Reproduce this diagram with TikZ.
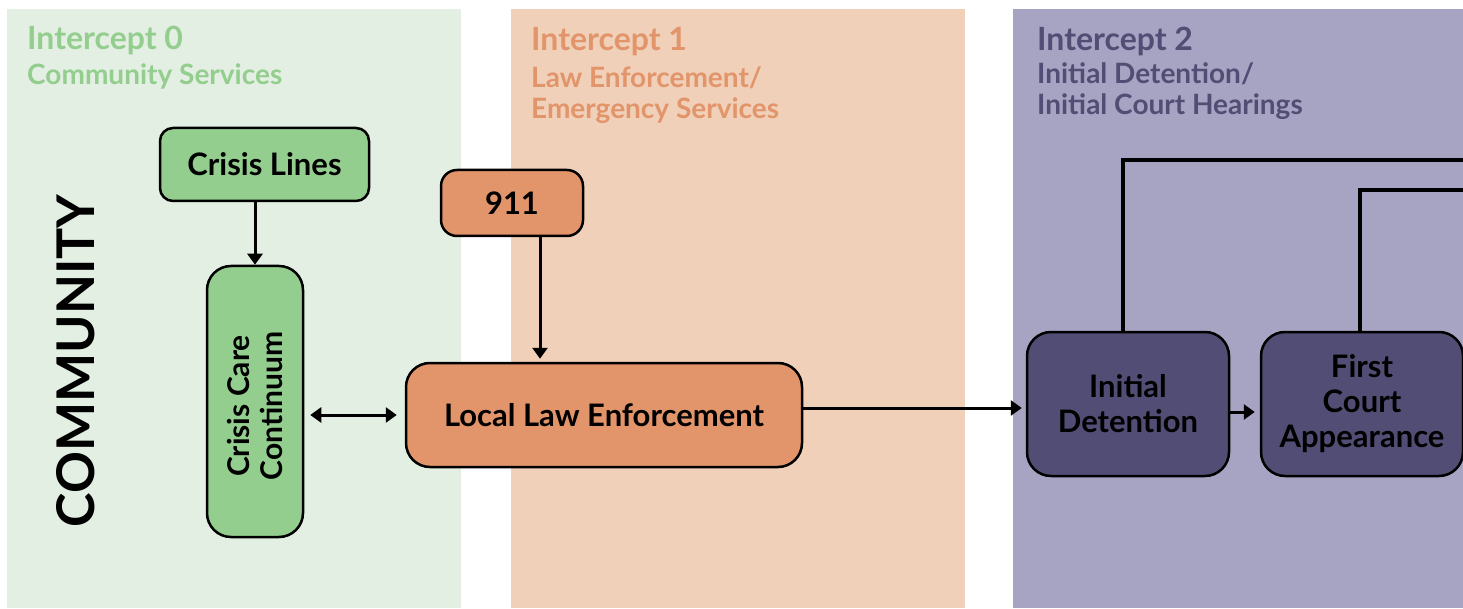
\documentclass[tikz,border=0pt]{standalone}
\usepackage{fontspec}
\setmainfont{Lato}
\usetikzlibrary{arrows.meta}

% band and box colours
\definecolor{grnBand}{HTML}{E3EFE2}
\definecolor{grnBox}{HTML}{93CE8E}
\definecolor{orgBand}{HTML}{F0D0B8}
\definecolor{orgBox}{HTML}{E2946A}
\definecolor{purBand}{HTML}{A7A3C2}
\definecolor{purBox}{HTML}{524D74}

\begin{document}
\begin{tikzpicture}[x=1pt, y=-1pt,
  every node/.style={font=\bfseries, align=center},
  stage/.style={rectangle, draw=black, line width=2.5pt, rounded corners=24pt, inner sep=0pt,
                font=\bfseries\fontsize{31}{35}\selectfont},
  head/.style={anchor=base west, inner sep=0pt, font=\bfseries\fontsize{32}{31}\selectfont},
  subhead/.style={anchor=north west, inner sep=0pt, align=left, font=\bfseries\fontsize{28}{31}\selectfont},
  link/.style={line width=3pt, -{Triangle[length=11pt, width=15pt]}},
  wire/.style={line width=4.5pt}
]
\useasboundingbox (0,0) rectangle (1463,609);

% intercept bands
\fill[grnBand] (7,9) rectangle (461,608);
\fill[orgBand] (511,9) rectangle (965,608);
\fill[purBand] (1013,9) rectangle (1463,608);

% band titles
\node[head, grnBox] (t0) at (27,50) {Intercept 0};
\node[subhead, grnBox] (s0) at (27,64) {Community Services};
\node[head, orgBox] (t1) at (531,51) {Intercept 1};
\node[subhead, orgBox] (s1) at (531,66) {Law Enforcement/\\Emergency Services};
\node[head, purBox] (t2) at (1037,51) {Intercept 2};
\node[subhead, purBox] (s2) at (1037,62) {Initial Detention/\\Initial Court Hearings};

\node[font=\bfseries\fontsize{52}{52}\selectfont, rotate=90] (comm) at (76,361) {COMMUNITY};

% intercept 0
\node[stage, fill=grnBox, rounded corners=13pt, minimum width=209pt, minimum height=73pt] (crisisL) at (264.5,164.5) {Crisis Lines};
\node[stage, fill=grnBox, minimum width=96pt, minimum height=271pt] (ccc) at (255,401.5) {};
\node[font=\bfseries\fontsize{30}{33}\selectfont, rotate=90] (cccTxt) at (255,406) {Crisis Care\\Continuum};

% intercept 1
\node[stage, fill=orgBox, rounded corners=16pt, minimum width=142pt, minimum height=66pt] (nine) at (512,203) {911};
\node[stage, fill=orgBox, minimum width=396pt, minimum height=104pt] (lle) at (604,415) {Local Law Enforcement};

% intercept 2
\node[stage, fill=purBox, minimum width=202pt, minimum height=144pt] (detn) at (1128,404) {Initial\\Detention};
\node[stage, fill=purBox, minimum width=202pt, minimum height=144pt] (court) at (1362,404) {First\\Court\\Appearance};

\coordinate (edgeA) at (1463,160);
\coordinate (edgeB) at (1463,190);

% connectors
\draw[link] (crisisL.south -| ccc.north) -- (ccc.north);
\draw[link, shorten >=3pt] ([xshift=28pt]nine.south) -- ([xshift=28pt]nine.south |- lle.north);
\draw[link, {Triangle[length=11pt, width=15pt]}-{Triangle[length=11pt, width=15pt]}, shorten <=6pt, shorten >=8pt] (ccc.east |- lle.west) -- (lle.west);
\draw[link, shorten >=4pt] ([yshift=7pt]lle.east) -- ([yshift=7pt]lle.east -| detn.west);
\draw[link, shorten >=5pt] ([yshift=-8pt]detn.east) -- ([yshift=-8pt]detn.east -| court.west);
\draw[wire] ([xshift=-5pt]detn.north) |- (edgeA);
\draw[wire] ([xshift=-2pt]court.north) |- (edgeB);
\end{tikzpicture}
\end{document}
